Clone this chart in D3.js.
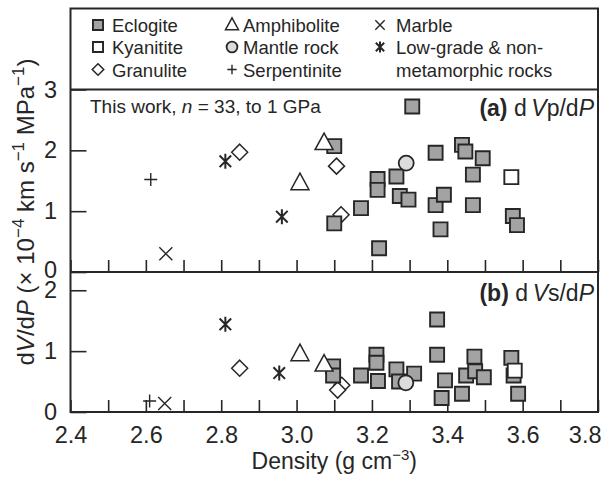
<!DOCTYPE html>
<html>
<head>
<meta charset="utf-8">
<script src="https://cdnjs.cloudflare.com/ajax/libs/d3/7.8.5/d3.min.js"></script>
<style>
  body { margin: 0; background: #fff; }
  svg { display: block; font-family: "Liberation Sans", Arial, Helvetica, sans-serif; }
</style>
</head>
<body>
<svg id="chart"></svg>
<script>
// [density, dV/dP]
const eclogiteVp = [[3.307, 2.72], [3.100, 2.07], [3.100, 0.80], [3.171, 1.05], [3.215, 1.53], [3.215, 1.35],
  [3.219, 0.39], [3.265, 1.57], [3.274, 1.25], [3.297, 1.19], [3.369, 1.96], [3.369, 1.10], [3.391, 1.27],
  [3.382, 0.70], [3.439, 2.09], [3.448, 1.98], [3.468, 1.60], [3.468, 1.10], [3.494, 1.87], [3.574, 0.92], [3.585, 0.77]];
const kyanititeVp = [[3.570, 1.56]];
const granuliteVp = [[2.849, 1.97], [3.106, 1.74], [3.118, 0.94]];
const amphiboliteVp = [[3.009, 1.46], [3.073, 2.12]];
const mantleVp = [[3.291, 1.79]];
const serpentiniteVp = [[2.613, 1.52]];
const marbleVp = [[2.653, 0.30]];
const lowGradeVp = [[2.811, 1.82], [2.961, 0.91]];

const eclogiteVs = [[3.097, 0.75], [3.097, 0.60], [3.171, 0.60], [3.212, 0.94], [3.212, 0.81], [3.216, 0.51],
  [3.265, 0.70], [3.272, 0.50], [3.312, 0.63], [3.373, 1.52], [3.373, 0.94], [3.394, 0.52], [3.385, 0.23],
  [3.439, 0.30], [3.450, 0.60], [3.472, 0.91], [3.474, 0.67], [3.497, 0.57], [3.570, 0.89], [3.576, 0.60], [3.588, 0.30]];
const kyanititeVs = [[3.579, 0.68]];
const granuliteVs = [[2.849, 0.72], [3.120, 0.44], [3.109, 0.36]];
const amphiboliteVs = [[3.009, 0.95], [3.073, 0.78]];
const mantleVs = [[3.290, 0.48]];
const serpentiniteVs = [[2.610, 0.18]];
const marbleVs = [[2.650, 0.14]];
const lowGradeVs = [[2.811, 1.44], [2.954, 0.64]];

const xTicks = [2.4, 2.5, 2.6, 2.7, 2.8, 2.9, 3.0, 3.1, 3.2, 3.3, 3.4, 3.5, 3.6, 3.7, 3.8];
const xLabels = [2.4, 2.6, 2.8, 3.0, 3.2, 3.4, 3.6, 3.8];
const yTicksA = [0, 1, 2, 3];
const yTicksB = [0, 1, 2];

const legendRows = [
  [['eclogite', 'Eclogite'], ['amphibolite', 'Amphibolite'], ['marble', 'Marble']],
  [['kyanitite', 'Kyanitite'], ['mantle', 'Mantle rock'], ['lowgrade', 'Low-grade & non-']],
  [['granulite', 'Granulite'], ['serpentinite', 'Serpentinite'], [null, 'metamorphic rocks']]
];

const width = 610, height = 482;
const left = 70.5, right = 598, legendTop = 8.5, topA = 89.5, mid = 272, bottom = 412;
const ink = '#262626';

const svg = d3.select('#chart').attr('width', width).attr('height', height);
svg.append('rect').attr('width', width).attr('height', height).attr('fill', '#fff');

const x = d3.scaleLinear().domain([2.4, 3.8]).range([left, right]);
const yA = d3.scaleLinear().domain([0, 3]).range([mid, topA]);
const yB = d3.scaleLinear().domain([0, 2.3]).range([bottom, mid]);

// marker shapes
function marker(g, type, cx, cy, k) {
  const p = d3.path();
  let fill = 'none', sw = 1.5;
  if (type === 'eclogite' || type === 'kyanitite') {
    const h = 7 * k;
    p.rect(cx - h, cy - h, 2 * h, 2 * h);
    fill = type === 'eclogite' ? '#a3a3a3' : '#fff';
    sw = 1.9;
  } else if (type === 'granulite') {
    const h = 8 * k;
    p.moveTo(cx, cy - h); p.lineTo(cx + h, cy); p.lineTo(cx, cy + h); p.lineTo(cx - h, cy); p.closePath();
    fill = '#fff';
  } else if (type === 'amphibolite') {
    const w = 9 * k, t = 10 * k, b = 6.5 * k;
    p.moveTo(cx, cy - t); p.lineTo(cx + w, cy + b); p.lineTo(cx - w, cy + b); p.closePath();
    fill = '#fff';
  } else if (type === 'mantle') {
    p.arc(cx, cy, 7.5 * k, 0, 2 * Math.PI);
    fill = '#dcdcdc';
    sw = 1.8;
  } else if (type === 'serpentinite') {
    const h = 6.5 * k;
    p.moveTo(cx - h, cy); p.lineTo(cx + h, cy); p.moveTo(cx, cy - h); p.lineTo(cx, cy + h);
    sw = 1.4;
  } else if (type === 'marble') {
    const h = 6.5 * k;
    p.moveTo(cx - h, cy - h); p.lineTo(cx + h, cy + h); p.moveTo(cx + h, cy - h); p.lineTo(cx - h, cy + h);
    sw = 1.4;
  } else if (type === 'lowgrade') {
    const h = 7.5 * k, d = 5.8 * k;
    p.moveTo(cx, cy - h); p.lineTo(cx, cy + h);
    p.moveTo(cx - d, cy - d); p.lineTo(cx + d, cy + d);
    p.moveTo(cx + d, cy - d); p.lineTo(cx - d, cy + d);
    sw = 2;
  }
  g.append('path').attr('d', p.toString()).attr('fill', fill).attr('stroke', ink).attr('stroke-width', sw);
}

function plotSeries(y, series) {
  const g = svg.append('g');
  series.forEach(([type, data]) => {
    data.forEach(d => marker(g, type, x(d[0]), y(d[1]), 1));
  });
}

// axes: x ticks pointing up into each panel
svg.append('g')
  .attr('transform', `translate(0,${mid})`)
  .call(d3.axisBottom(x).tickValues(xTicks).tickSizeInner(-12).tickSizeOuter(0).tickFormat(''))
  .call(g => g.select('.domain').remove());

const xAxisB = svg.append('g')
  .attr('transform', `translate(0,${bottom})`)
  .call(d3.axisBottom(x).tickValues(xTicks).tickSizeInner(-12).tickSizeOuter(0).tickPadding(14)
    .tickFormat(d => xLabels.some(v => Math.abs(v - d) < 1e-9) ? d3.format('.1f')(d) : ''))
  .attr('font-size', 23.5)
  .call(g => g.select('.domain').remove());
// last label pulled inside the right edge, as in the figure
xAxisB.selectAll('.tick text').filter(d => d === 3.8).attr('text-anchor', 'end').attr('x', 3);

const yAxisA = svg.append('g')
  .attr('transform', `translate(${left},0)`)
  .call(d3.axisLeft(yA).tickValues(yTicksA).tickSizeInner(-16).tickSizeOuter(0).tickPadding(13.5).tickFormat(d3.format('d')))
  .attr('font-size', 23.5)
  .call(g => g.select('.domain').remove());
// the shared zero sits a little higher so it clears the lower panel's "2"
yAxisA.selectAll('.tick text').filter(d => d === 0).attr('y', -2.5);

svg.append('g')
  .attr('transform', `translate(${left},0)`)
  .call(d3.axisLeft(yB).tickValues(yTicksB).tickSizeInner(-16).tickSizeOuter(0).tickPadding(13.5).tickFormat(d3.format('d')))
  .attr('font-size', 23.5)
  .call(g => g.select('.domain').remove());

svg.selectAll('.tick line').attr('stroke', ink).attr('stroke-width', 1.6);
svg.selectAll('.tick text').attr('fill', ink);

// frame
svg.append('rect')
  .attr('x', left).attr('y', legendTop).attr('width', right - left).attr('height', bottom - legendTop)
  .attr('fill', 'none').attr('stroke', ink).attr('stroke-width', 2);
[topA, mid].forEach(v => {
  svg.append('line').attr('x1', left).attr('x2', right).attr('y1', v).attr('y2', v)
    .attr('stroke', ink).attr('stroke-width', 2);
});

// points
plotSeries(yA, [['serpentinite', serpentiniteVp], ['marble', marbleVp], ['lowgrade', lowGradeVp],
  ['eclogite', eclogiteVp.slice(0, 2)], ['amphibolite', amphiboliteVp], ['granulite', granuliteVp],
  ['eclogite', eclogiteVp.slice(2)], ['mantle', mantleVp], ['kyanitite', kyanititeVp]]);
plotSeries(yB, [['serpentinite', serpentiniteVs], ['marble', marbleVs], ['lowgrade', lowGradeVs],
  ['granulite', granuliteVs], ['eclogite', eclogiteVs], ['amphibolite', amphiboliteVs],
  ['mantle', mantleVs], ['kyanitite', kyanititeVs]]);

// legend
const colMarker = [98, 232, 380];
const colText = [112, 243, 396];
const rowMid = [25, 47, 69.5];
legendRows.forEach((row, r) => {
  row.forEach(([type, label], c) => {
    if (type) marker(svg, type, colMarker[c], rowMid[r], 0.72);
    svg.append('text')
      .attr('x', colText[c]).attr('y', rowMid[r] + 7)
      .attr('font-size', 18.5).attr('fill', ink)
      .text(label);
  });
});

// panel annotations
const note = svg.append('text').attr('x', 90).attr('y', 113).attr('font-size', 19).attr('fill', ink);
note.append('tspan').text('This work, ');
note.append('tspan').attr('font-style', 'italic').text('n');
note.append('tspan').text(' = 33, to 1 GPa');

function panelTitle(y, letter, sub) {
  const t = svg.append('text').attr('x', right - 4).attr('y', y).attr('text-anchor', 'end')
    .attr('font-size', 23).attr('fill', ink);
  t.append('tspan').attr('font-weight', 'bold').text(`(${letter})`);
  t.append('tspan').text(' d\u2009');
  t.append('tspan').attr('font-style', 'italic').text('V');
  t.append('tspan').text(`${sub}/d`);
  t.append('tspan').attr('font-style', 'italic').text('P');
}
panelTitle(116, 'a', 'p');
panelTitle(301, 'b', 's');

// axis titles
const xt = svg.append('text').attr('x', (left + right) / 2).attr('y', 469)
  .attr('text-anchor', 'middle').attr('font-size', 23).attr('fill', ink);
xt.append('tspan').text('Density (g cm');
xt.append('tspan').attr('dy', -9).attr('font-size', 15).text('−3');
xt.append('tspan').attr('dy', 9).text(')');

const yt = svg.append('text').attr('transform', `translate(34,212) rotate(-90)`)
  .attr('text-anchor', 'middle').attr('font-size', 24).attr('fill', ink);
yt.append('tspan').text('d');
yt.append('tspan').attr('font-style', 'italic').text('V');
yt.append('tspan').text('/d');
yt.append('tspan').attr('font-style', 'italic').text('P');
yt.append('tspan').text(' (× 10');
yt.append('tspan').attr('dy', -10).attr('font-size', 17).text('−4');
yt.append('tspan').attr('dy', 10).text(' km s');
yt.append('tspan').attr('dy', -10).attr('font-size', 17).text('−1');
yt.append('tspan').attr('dy', 10).text(' MPa');
yt.append('tspan').attr('dy', -10).attr('font-size', 17).text('−1');
yt.append('tspan').attr('dy', 10).text(')');
</script>
</body>
</html>
